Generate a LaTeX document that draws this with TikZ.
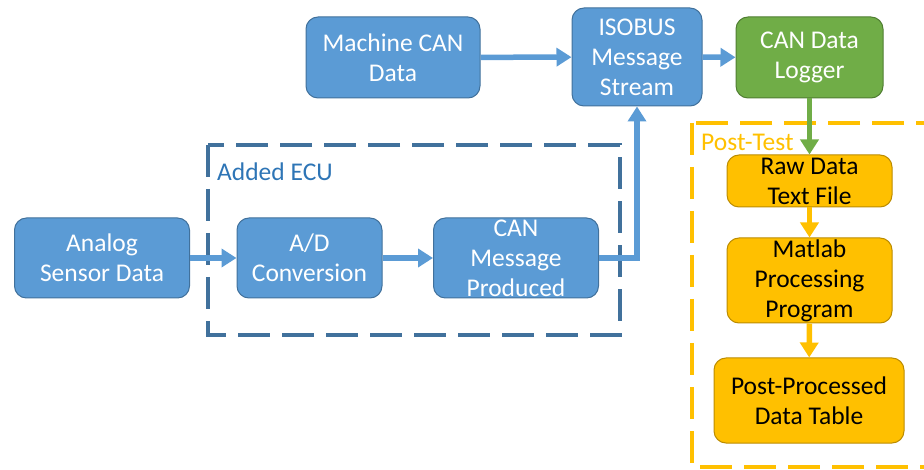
\documentclass[tikz,border=0pt]{standalone}
\usepackage{fontspec}
\setmainfont{Carlito}
\usetikzlibrary{arrows.meta}
\definecolor{bfill}{HTML}{5B9BD5}
\definecolor{bdraw}{HTML}{41719C}
\definecolor{gfill}{HTML}{70AD47}
\definecolor{gdraw}{HTML}{507E32}
\definecolor{ofill}{HTML}{FFC000}
\definecolor{odraw}{HTML}{BC8C00}
\definecolor{ecutext}{HTML}{2E75B6}
\begin{document}
\begin{tikzpicture}[x=1pt,y=-1pt,
  box/.style={rounded corners=12pt, line width=1pt, inner sep=0pt, align=center,
    font=\fontsize{25.5}{30}\selectfont},
  bluebox/.style={box, fill=bfill, draw=bdraw, text=white},
  greenbox/.style={box, fill=gfill, draw=gdraw, text=white},
  orangebox/.style={box, fill=ofill, draw=odraw, text=black},
  flow/.style={line width=5.5pt, -{Triangle[width=18pt,length=15pt]}},
  blueflow/.style={flow, draw=bfill},
  greenflow/.style={flow, draw=gfill},
  orangeflow/.style={flow, draw=ofill},
  dashbox/.style={line width=4pt, dash pattern=on 32pt off 12pt},
  lbl/.style={font=\fontsize{25.5}{30}\selectfont, inner sep=0pt, anchor=west}]
\useasboundingbox (0,0) rectangle (924,470);
\clip (0,0) rectangle (924,470);

% dashed groups
\draw[dashbox, draw=bdraw] (208,145) rectangle (620,335);
\node[lbl, text=ecutext] (ecu) at (217,172) {Added ECU};
\draw[dashbox, draw=ofill] (692,123) rectangle (960,467);
\node[lbl, text=ofill] (post) at (701,142) {Post-Test};

% nodes
\node[bluebox, minimum width=175pt, minimum height=80pt] (analog) at (102,258) {Analog\\Sensor Data};
\node[bluebox, minimum width=145pt, minimum height=80pt] (ad) at (309.5,258) {A/D\\Conversion};
\node[bluebox, minimum width=165pt, minimum height=80pt] (canmsg) at (516,258) {CAN\\Message\\Produced};
\node[bluebox, minimum width=174pt, minimum height=81pt] (machine) at (393,57.5) {Machine CAN\\Data};
\node[bluebox, minimum width=130pt, minimum height=98pt] (isobus) at (637,57) {ISOBUS\\Message\\Stream};
\node[greenbox, minimum width=147pt, minimum height=81pt] (logger) at (809.5,57.5) {CAN Data\\Logger};
\node[orangebox, minimum width=165pt, minimum height=52pt] (raw) at (809.5,181) {Raw Data\\Text File};
\node[orangebox, minimum width=165pt, minimum height=85pt] (matlab) at (809.5,280.5) {Matlab\\Processing\\Program};
\node[orangebox, minimum width=190pt, minimum height=85pt] (table) at (809,400.5) {Post-Processed\\Data Table};

% connectors
\draw[blueflow] (analog) -- (ad);
\draw[blueflow] (ad) -- (canmsg);
\draw[blueflow] (canmsg.east) -| (isobus.south);
\draw[blueflow] (machine) -- (isobus);
\draw[blueflow] (isobus) -- (logger);
\draw[greenflow] (logger) -- (raw);
\draw[orangeflow] (raw) -- (matlab);
\draw[orangeflow] (matlab) -- (table);
\end{tikzpicture}
\end{document}
